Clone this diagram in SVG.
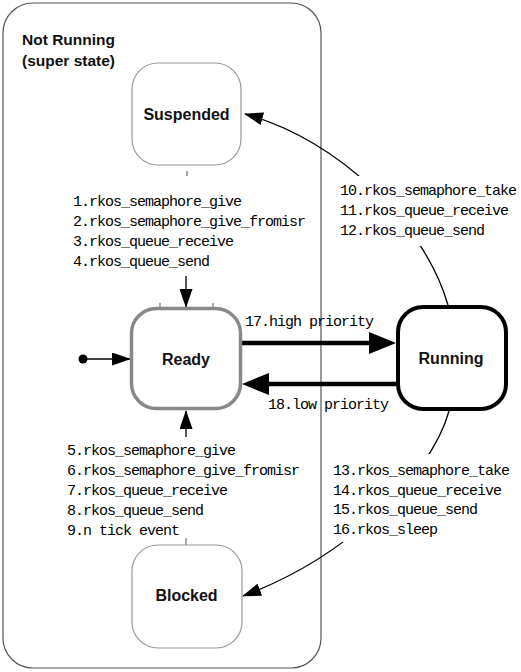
<svg xmlns="http://www.w3.org/2000/svg" width="521" height="672" viewBox="0 0 521 672">
<style>
.lbl{font-family:"Liberation Mono","Courier New",monospace;font-size:15px;letter-spacing:-1px;fill:#000}
.nd{font-family:"Liberation Sans",Arial,sans-serif;font-weight:bold;font-size:16px;fill:#111;text-anchor:middle}
.thin{fill:none;stroke:#000;stroke-width:1.3}
.thick{fill:none;stroke:#000;stroke-width:4.5}
.tick{stroke:#555;stroke-width:1}
</style>
<defs>
<marker id="ah" markerUnits="userSpaceOnUse" markerWidth="19" markerHeight="13" refX="18" refY="6.5" orient="auto">
<path d="M0,0 L19,6.5 L0,13 z" fill="#000"/>
</marker>
<marker id="ahT" markerUnits="userSpaceOnUse" markerWidth="27" markerHeight="22" refX="16" refY="11" orient="auto">
<path d="M0,0 L27,11 L0,22 z" fill="#000"/>
</marker>
</defs>
<rect width="521" height="672" fill="#fff"/>
<g id="not-running">
<rect x="3" y="3" width="318" height="665" rx="30" ry="30" fill="none" stroke="#555" stroke-width="1.2"/>
<text x="22" y="45" class="nd" style="text-anchor:start;font-size:15.5px">Not Running</text>
<text x="22" y="66" class="nd" style="text-anchor:start;font-size:15.5px">(super state)</text>
</g>
<g id="connectors">
<path class="thin" d="M448,305 C425,225 340,140 245,114" marker-end="url(#ah)"/>
<path class="thin" d="M449,411 C430,480 340,560 243,596" marker-end="url(#ah)"/>
<line class="thick" x1="242" y1="343" x2="385" y2="343" marker-end="url(#ahT)"/>
<line class="thick" x1="396" y1="384" x2="253" y2="384" marker-end="url(#ahT)"/>
<line class="thin" x1="86" y1="359" x2="130" y2="359" marker-end="url(#ah)"/>
<circle cx="83" cy="359" r="4.5" fill="#000"/>
<line class="thin" x1="186" y1="276" x2="186" y2="307" marker-end="url(#ah)"/>
<line class="thin" x1="186" y1="437" x2="186" y2="411" marker-end="url(#ah)"/>
<line class="tick" x1="187" y1="171" x2="187" y2="176"/>
<line class="tick" x1="160" y1="303" x2="160" y2="307"/>
<line class="tick" x1="213" y1="303" x2="213" y2="307"/>
<line class="tick" x1="186" y1="538" x2="186" y2="545"/>
<rect x="334" y="176" width="184" height="70" fill="#fff"/>
<rect x="328" y="454" width="190" height="88" fill="#fff"/>
<text class="lbl" x="73" y="206">1.rkos_semaphore_give</text>
<text class="lbl" x="73" y="226">2.rkos_semaphore_give_fromisr</text>
<text class="lbl" x="73" y="246">3.rkos_queue_receive</text>
<text class="lbl" x="73" y="266">4.rkos_queue_send</text>
<text class="lbl" x="67" y="455">5.rkos_semaphore_give</text>
<text class="lbl" x="67" y="475">6.rkos_semaphore_give_fromisr</text>
<text class="lbl" x="67" y="495">7.rkos_queue_receive</text>
<text class="lbl" x="67" y="515">8.rkos_queue_send</text>
<text class="lbl" x="67" y="535">9.n tick event</text>
<text class="lbl" x="340" y="195">10.rkos_semaphore_take</text>
<text class="lbl" x="340" y="215">11.rkos_queue_receive</text>
<text class="lbl" x="340" y="235">12.rkos_queue_send</text>
<text class="lbl" x="333" y="475">13.rkos_semaphore_take</text>
<text class="lbl" x="333" y="495">14.rkos_queue_receive</text>
<text class="lbl" x="333" y="514">15.rkos_queue_send</text>
<text class="lbl" x="333" y="534">16.rkos_sleep</text>
<text class="lbl" x="245" y="326">17.high priority</text>
<text class="lbl" x="268" y="409">18.low priority</text>
</g>
<g id="suspended">
<rect x="132" y="63" width="109" height="102" rx="26" ry="26" fill="#fff" stroke="#999" stroke-width="1.2"/>
<text class="nd" x="186.5" y="120">Suspended</text>
</g>
<g id="ready">
<rect x="131.5" y="308.5" width="109" height="100" rx="25" ry="25" fill="#fff" stroke="#888" stroke-width="3.5"/>
<text class="nd" x="186" y="365">Ready</text>
</g>
<g id="running">
<rect x="398" y="307" width="108" height="102" rx="25" ry="25" fill="#fff" stroke="#000" stroke-width="4"/>
<text class="nd" x="451" y="364">Running</text>
</g>
<g id="blocked">
<rect x="132" y="545" width="110" height="103" rx="26" ry="26" fill="#fff" stroke="#999" stroke-width="1.2"/>
<text class="nd" x="186.5" y="601">Blocked</text>
</g>
</svg>
